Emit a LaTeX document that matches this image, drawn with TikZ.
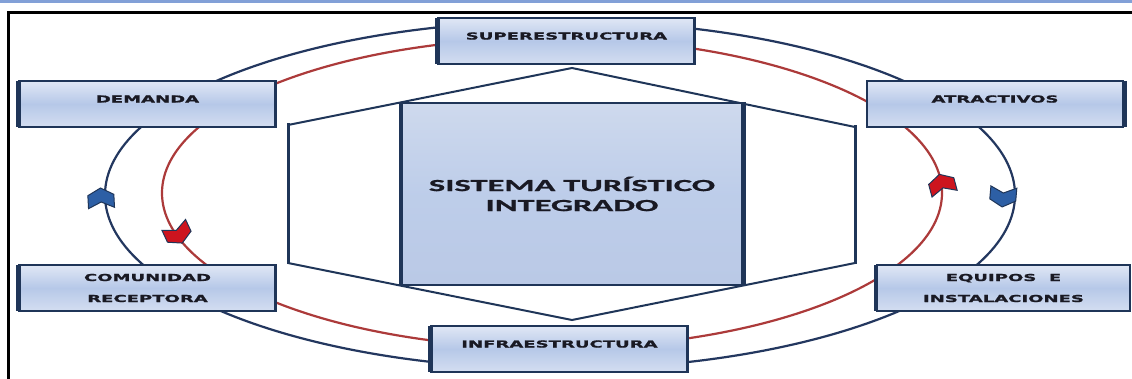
\documentclass[tikz,border=0pt]{standalone}
\usepackage{fontspec}
\newfontfamily\boxfont{DejaVu Sans}[FakeStretch=1.88, FakeBold=1.3]
\newfontfamily\centerfont{Carlito}[FakeStretch=2.03, FakeBold=1]
\definecolor{navy}{RGB}{31,53,88}
\definecolor{ringblue}{RGB}{35,55,95}
\definecolor{ringred}{RGB}{172,58,58}
\definecolor{boxtop}{RGB}{224,231,245}
\definecolor{boxmid}{RGB}{182,200,232}
\definecolor{boxbot}{RGB}{212,222,241}
\definecolor{centop}{RGB}{206,217,237}
\definecolor{cenbot}{RGB}{186,201,230}
\definecolor{arrblue}{RGB}{45,95,165}
\definecolor{arrred}{RGB}{205,20,30}
\definecolor{toprule}{RGB}{130,160,215}
\definecolor{txt}{RGB}{25,25,35}
\tikzset{
  infobox/.style={draw=navy, line width=2.2bp, top color=boxtop, bottom color=boxbot,
    middle color=boxmid, minimum width=256bp, minimum height=46bp, inner sep=0pt,
    text=txt, align=center, font=\boxfont\bfseries\fontsize{9.6bp}{21bp}\selectfont},
  oneline/.style={text height=7bp, text depth=10bp},
  thickedge/.style={navy, line width=5bp},
  ring/.style={line width=2.2bp},
  hexline/.style={navy, line width=2bp},
  chev/.pic={\path[pic actions] (0,-10) -- (13,-3) -- (13,10) -- (0,4) -- (-13,10) -- (-13,-3) -- cycle;},
  chevstyle/.style={draw=navy, line width=1bp}
}
\begin{document}
\begin{tikzpicture}[x=1bp,y=-1bp]
\useasboundingbox (0,0) rectangle (1132,378);
\fill[white] (0,0) rectangle (1132,378);
% top rule and frame
\draw[toprule, line width=2.5bp] (0,1.3) -- (1132,1.3);
\draw[black, line width=3bp] (8.3,380) -- (8.3,12.7) -- (1135,12.7);
% rings
\draw[ring, ringblue] (560,195) ellipse [x radius=455bp, y radius=174bp];
\draw[ring, ringred] (552,193) ellipse [x radius=390bp, y radius=155bp];
% hexagon
\fill[white] (288,125) -- (572,68) -- (855,127) -- (855,263) -- (572,320) -- (288,263) -- cycle;
\draw[hexline] (288,125) -- (572,68) -- (855,127);
\draw[hexline] (288,263) -- (572,320) -- (855,263);
\draw[hexline, line width=3bp] (288,123) -- (288,264);
\draw[hexline, line width=3bp] (855,125) -- (855,264);
% central box
\node[draw=navy, line width=2.5bp, top color=centop, bottom color=cenbot, middle color=boxmid!70!centop,
  minimum width=340bp, minimum height=182bp, inner sep=0pt, text=txt, align=center,
  font=\centerfont\bfseries\fontsize{17bp}{20bp}\selectfont] (sys) at (572,194)
  {SISTEMA TURÍSTICO\\INTEGRADO};
\draw[navy, line width=4.5bp] (sys.north west) -- (sys.south west);
\draw[navy, line width=4.5bp] (sys.north east) -- (sys.south east);
% boxes
\node[infobox, oneline] (dem) at (147.5,104) {DEMANDA};
\node[infobox, oneline] (sup) at (566.5,41) {SUPERESTRUCTURA};
\node[infobox, oneline] (atr) at (995,104) {ATRACTIVOS};
\node[infobox] (com) at (147.5,288) {COMUNIDAD\\RECEPTORA};
\node[infobox, oneline] (inf) at (559.5,349) {INFRAESTRUCTURA};
\node[infobox, minimum width=253bp] (equ) at (1003.5,288) {EQUIPOS\ \ E\\INSTALACIONES};
\draw[thickedge] ([yshift=-1bp]dem.north west) -- ([yshift=1bp]dem.south west);
\draw[thickedge] ([yshift=-1bp]sup.north west) -- ([yshift=1bp]sup.south west);
\draw[thickedge] ([yshift=-1bp]atr.north east) -- ([yshift=1bp]atr.south east);
\draw[thickedge] ([yshift=-1bp]com.north west) -- ([yshift=1bp]com.south west);
\draw[thickedge, line width=4bp] ([yshift=-1bp]inf.north west) -- ([yshift=1bp]inf.south west);
\draw[thickedge, line width=4bp] ([yshift=-1bp]equ.north west) -- ([yshift=1bp]equ.south west);
% arrowheads on rings
\pic[chevstyle, fill=arrblue, rotate=3] at (101,198) {chev};
\pic[chevstyle, fill=arrred, rotate=205] at (178,234) {chev};
\pic[chevstyle, fill=arrred, rotate=15] at (942,184) {chev};
\pic[chevstyle, fill=arrblue, rotate=175] at (1003,197) {chev};
\end{tikzpicture}
\end{document}
